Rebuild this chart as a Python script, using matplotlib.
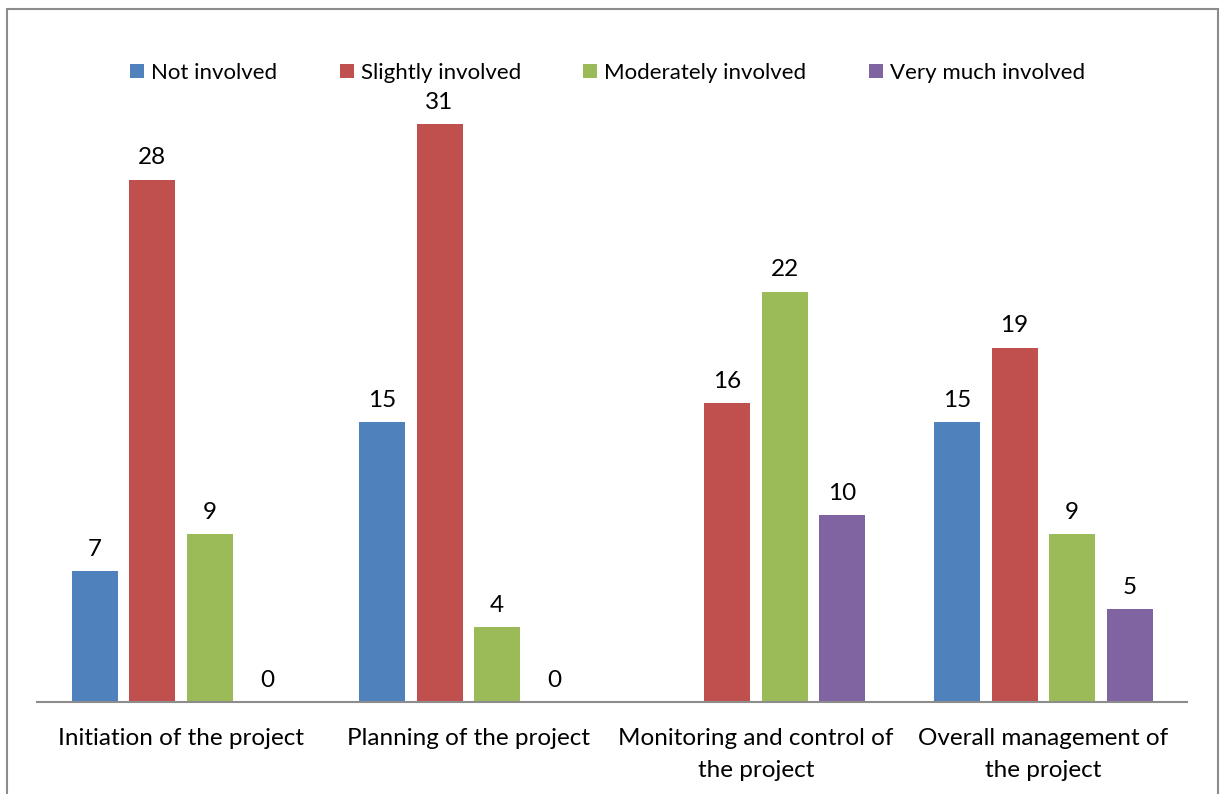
import numpy as np
import matplotlib.pyplot as plt
from matplotlib.patches import Rectangle

plt.rcParams['font.family'] = ['Lato', 'DejaVu Sans']

# survey counts per project phase
categories = ["Initiation of the project", "Planning of the project",
              "Monitoring and control of\nthe project", "Overall management of\nthe project"]
series_names = ["Not involved", "Slightly involved", "Moderately involved", "Very much involved"]
not_involved = [7, 15, np.nan, 15]
slightly = [28, 31, 16, 19]
moderately = [9, 4, 22, 9]
very_much = [0, 0, 10, 5]
colors = ["#4F81BD", "#C0504D", "#9BBB59", "#8064A2"]

FS = 17.5
W, H = 1220, 794
fig = plt.figure(figsize=(W / 100, H / 100), dpi=100)
ax = fig.add_axes([37 / W, 1 - 702 / H, 1150 / W, (702 - 49) / H])

x = np.arange(len(categories))
step = 0.2
bw = 0.16
for i, (vals, name, c) in enumerate(zip([not_involved, slightly, moderately, very_much], series_names, colors)):
    pos = x - 0.3 + i * step
    ax.bar(pos, vals, width=bw, color=c, label=name)
    for xp, v in zip(pos, vals):
        if np.isnan(v):
            continue
        ax.annotate(f"{v:g}", (xp, v), xytext=(0, 8), textcoords="offset points",
                    ha="center", va="bottom", fontsize=FS, color="black")

ax.set_xlim(-0.5, len(categories) - 0.5)
ax.set_ylim(0, 35)
ax.set_xticks(x)
ax.set_xticklabels(categories, fontsize=FS, linespacing=1.6)
ax.tick_params(axis="x", length=0, pad=19)
ax.set_yticks([])
for s in ["top", "left", "right"]:
    ax.spines[s].set_visible(False)
ax.spines["bottom"].set_color("#8C8C8C")
ax.spines["bottom"].set_linewidth(1.5)

ax.legend(loc="center", bbox_to_anchor=(607.5 / W, (794 - 73) / H), bbox_transform=fig.transFigure,
          ncol=4, frameon=False, fontsize=16, handlelength=0.63, handleheight=0.6,
          handletextpad=0.32, columnspacing=2.8)

# outer frame, open at the bottom edge
fig.patches.append(Rectangle((7 / W, -0.01), (1218 - 7) / W, 1 - 9 / H + 0.01,
                             transform=fig.transFigure, fill=False,
                             edgecolor="#8C8C8C", linewidth=1.5))

fig.savefig("out.png", dpi=100)
